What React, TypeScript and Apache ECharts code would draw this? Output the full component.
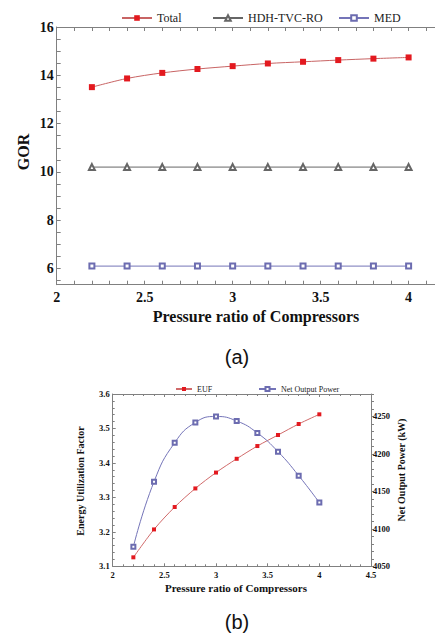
import React, { useEffect, useRef } from "react";
import * as echarts from "echarts";

// ---- data (a) ----
const pressureRatio = [2.2, 2.4, 2.6, 2.8, 3.0, 3.2, 3.4, 3.6, 3.8, 4.0];
const totalGOR = [13.51, 13.87, 14.1, 14.26, 14.38, 14.49, 14.56, 14.63, 14.69, 14.74];
const hdhGOR = [10.2, 10.2, 10.2, 10.2, 10.2, 10.2, 10.2, 10.2, 10.2, 10.2];
const medGOR = [6.1, 6.1, 6.1, 6.1, 6.1, 6.1, 6.1, 6.1, 6.1, 6.1];
const gorLabels = [6, 8, 10, 12, 14, 16];
const gorTicks = [5.5, 6, 6.5, 7, 7.5, 8, 8.5, 9, 9.5, 10, 10.5, 11, 11.5, 12, 12.5, 13, 13.5, 14, 14.5, 15, 15.5, 16];
const prLabelsA = [2, 2.5, 3, 3.5, 4];
const prTicksA = [2, 2.1, 2.2, 2.3, 2.4, 2.5, 2.6, 2.7, 2.8, 2.9, 3, 3.1, 3.2, 3.3, 3.4, 3.5, 3.6, 3.7, 3.8, 3.9, 4, 4.1];

// ---- data (b) ----
const euf = [3.126, 3.207, 3.272, 3.326, 3.372, 3.412, 3.449, 3.481, 3.513, 3.541];
const netPower = [4076, 4163, 4215, 4242, 4250, 4244, 4228, 4203, 4171, 4135];
const powerLabels = [4050, 4100, 4150, 4200, 4250];
const powerTicks = [4050, 4060, 4070, 4080, 4090, 4100, 4110, 4120, 4130, 4140, 4150, 4160, 4170, 4180, 4190, 4200, 4210, 4220, 4230, 4240, 4250, 4260, 4270, 4280];

const SERIF = "Liberation Serif";
const SANS = "Liberation Sans";
const AX = "#808080";

export default function App() {
  const ref = useRef<HTMLDivElement>(null);
  useEffect(() => {
    document.body.style.margin = "0";
    const chart = echarts.init(ref.current!, null, { renderer: "svg" });
    const pairs = (ys: number[]) => pressureRatio.map((x, i) => [x, ys[i]]);
    const plain = (v: number) => String(v);
    const tickLabelA = { fontFamily: SERIF, fontWeight: "bold", fontSize: 14, color: "#111", formatter: plain };
    const tickLabelB = { fontFamily: SERIF, fontWeight: "bold", fontSize: 8.5, color: "#111" };
    const legText = (s: number) => ({ fontFamily: SERIF, fontSize: s, color: "#222" });
    const option: any = {
      animation: false,
      backgroundColor: "#fff",
      textStyle: { fontFamily: SERIF },
      grid: [
        { left: 56.7, top: 27, width: 378.3, height: 257.7 },
        { left: 112.7, top: 394, width: 258.3, height: 172.3 },
      ],
      legend: [
        { data: ["Total"], left: 116, top: 7, itemWidth: 30, itemHeight: 7, textStyle: legText(12) },
        { data: ["HDH-TVC-RO"], left: 207, top: 7, itemWidth: 30, itemHeight: 7, textStyle: legText(12) },
        { data: ["MED"], left: 333, top: 7, itemWidth: 30, itemHeight: 7, textStyle: legText(12) },
        { data: ["EUF"], left: 170, top: 380, itemWidth: 16, itemHeight: 5, textStyle: legText(8) },
        { data: ["Net Output Power"], left: 253, top: 380, itemWidth: 17, itemHeight: 5, textStyle: legText(8) },
      ],
      xAxis: [
        {
          type: "value", gridIndex: 0, min: 2, max: 4.15, position: "bottom",
          axisLine: { show: true, lineStyle: { color: AX, width: 1 } },
          axisTick: { show: true, inside: true, length: 4, customValues: prTicksA, lineStyle: { color: AX } },
          axisLabel: { show: true, customValues: prLabelsA, margin: 6, ...tickLabelA },
          splitLine: { show: false },
        },
        {
          type: "value", gridIndex: 0, min: 2, max: 4.15, position: "top",
          axisLine: { show: true, lineStyle: { color: AX, width: 1 } },
          axisTick: { show: true, inside: true, length: 4, customValues: prTicksA, lineStyle: { color: AX } },
          axisLabel: { show: false },
          splitLine: { show: false },
        },
        {
          type: "value", gridIndex: 1, min: 2, max: 4.5, interval: 0.5, position: "bottom",
          axisLine: { show: true, lineStyle: { color: AX, width: 1 } },
          axisTick: { show: true, inside: true, length: 3, lineStyle: { color: AX } },
          minorTick: { show: true, splitNumber: 5, length: 2, lineStyle: { color: AX } },
          axisLabel: { show: true, margin: 4, formatter: plain, ...tickLabelB },
          splitLine: { show: false },
        },
        {
          type: "value", gridIndex: 1, min: 2, max: 4.5, interval: 0.5, position: "top",
          axisLine: { show: true, lineStyle: { color: AX, width: 1 } },
          axisTick: { show: true, inside: true, length: 3, lineStyle: { color: AX } },
          minorTick: { show: true, splitNumber: 5, length: 2, lineStyle: { color: AX } },
          axisLabel: { show: false },
          splitLine: { show: false },
        },
      ],
      yAxis: [
        {
          type: "value", gridIndex: 0, min: 5.33, max: 16,
          axisLine: { show: true, lineStyle: { color: AX, width: 1 } },
          axisTick: { show: true, inside: true, length: 4, customValues: gorTicks, lineStyle: { color: AX } },
          axisLabel: { show: true, customValues: gorLabels, margin: 3, ...tickLabelA },
          splitLine: { show: false },
        },
        {
          type: "value", gridIndex: 1, min: 3.1, max: 3.6, interval: 0.1, position: "left",
          axisLine: { show: true, lineStyle: { color: AX, width: 1 } },
          axisTick: { show: true, inside: true, length: 3, lineStyle: { color: AX } },
          minorTick: { show: true, splitNumber: 5, length: 2, lineStyle: { color: AX } },
          axisLabel: { show: true, margin: 3, formatter: (v: number) => v.toFixed(1), ...tickLabelB },
          splitLine: { show: false },
        },
        {
          type: "value", gridIndex: 1, min: 4050, max: 4280, position: "right",
          axisLine: { show: true, lineStyle: { color: AX, width: 1 } },
          axisTick: { show: true, inside: false, length: 3, customValues: powerTicks, lineStyle: { color: AX } },
          axisLabel: { show: true, customValues: powerLabels, margin: 2, formatter: plain, ...tickLabelB },
          splitLine: { show: false },
        },
      ],
      series: [
        {
          name: "Total", type: "line", xAxisIndex: 0, yAxisIndex: 0, data: pairs(totalGOR), smooth: 0.3,
          symbol: "rect", symbolSize: 6, itemStyle: { color: "#e3191f" }, lineStyle: { color: "#c86464", width: 1 },
        },
        {
          name: "HDH-TVC-RO", type: "line", xAxisIndex: 0, yAxisIndex: 0, data: pairs(hdhGOR),
          symbol: "emptyTriangle", symbolSize: 6, itemStyle: { color: "#666", borderWidth: 0.8 }, lineStyle: { color: "#666", width: 1 },
        },
        {
          name: "MED", type: "line", xAxisIndex: 0, yAxisIndex: 0, data: pairs(medGOR),
          symbol: "emptyRect", symbolSize: 5, itemStyle: { color: "#6c6cb0", borderWidth: 0.8 }, lineStyle: { color: "#7474b8", width: 1 },
        },
        {
          name: "EUF", type: "line", xAxisIndex: 2, yAxisIndex: 1, data: pairs(euf), smooth: 0.3,
          symbol: "rect", symbolSize: 4, itemStyle: { color: "#e3191f" }, lineStyle: { color: "#d06a6a", width: 1 },
        },
        {
          name: "Net Output Power", type: "line", xAxisIndex: 2, yAxisIndex: 2, data: pairs(netPower), smooth: 0.5,
          symbol: "emptyRect", symbolSize: 4, itemStyle: { color: "#6c6cb0", borderWidth: 0.8 }, lineStyle: { color: "#7474b8", width: 1 },
        },
      ],
      graphic: [
        { type: "text", x: 23, y: 152, rotation: Math.PI / 2, style: { text: "GOR", font: `bold 16px ${SERIF}`, fill: "#111", textAlign: "center", textVerticalAlign: "middle" } },
        { type: "text", x: 256, y: 316, style: { text: "Pressure ratio of Compressors", font: `bold 16px ${SERIF}`, fill: "#111", textAlign: "center", textVerticalAlign: "middle" } },
        { type: "text", x: 237, y: 357, style: { text: "(a)", font: `20px ${SANS}`, fill: "#111", textAlign: "center", textVerticalAlign: "middle" } },
        { type: "text", x: 80, y: 481, rotation: Math.PI / 2, style: { text: "Energy Utilization Factor", font: `bold 10px ${SERIF}`, fill: "#111", textAlign: "center", textVerticalAlign: "middle" } },
        { type: "text", x: 401, y: 470, rotation: Math.PI / 2, style: { text: "Net Output Power (kW)", font: `bold 10px ${SERIF}`, fill: "#111", textAlign: "center", textVerticalAlign: "middle" } },
        { type: "text", x: 236, y: 588, style: { text: "Pressure ratio of Compressors", font: `bold 11px ${SERIF}`, fill: "#111", textAlign: "center", textVerticalAlign: "middle" } },
        { type: "text", x: 237, y: 622, style: { text: "(b)", font: `20px ${SANS}`, fill: "#111", textAlign: "center", textVerticalAlign: "middle" } },
      ],
    };
    chart.setOption(option);
    return () => chart.dispose();
  }, []);
  return <div ref={ref} style={{ position: "absolute", left: 0, top: 0, width: 435, height: 634 }} />;
}
